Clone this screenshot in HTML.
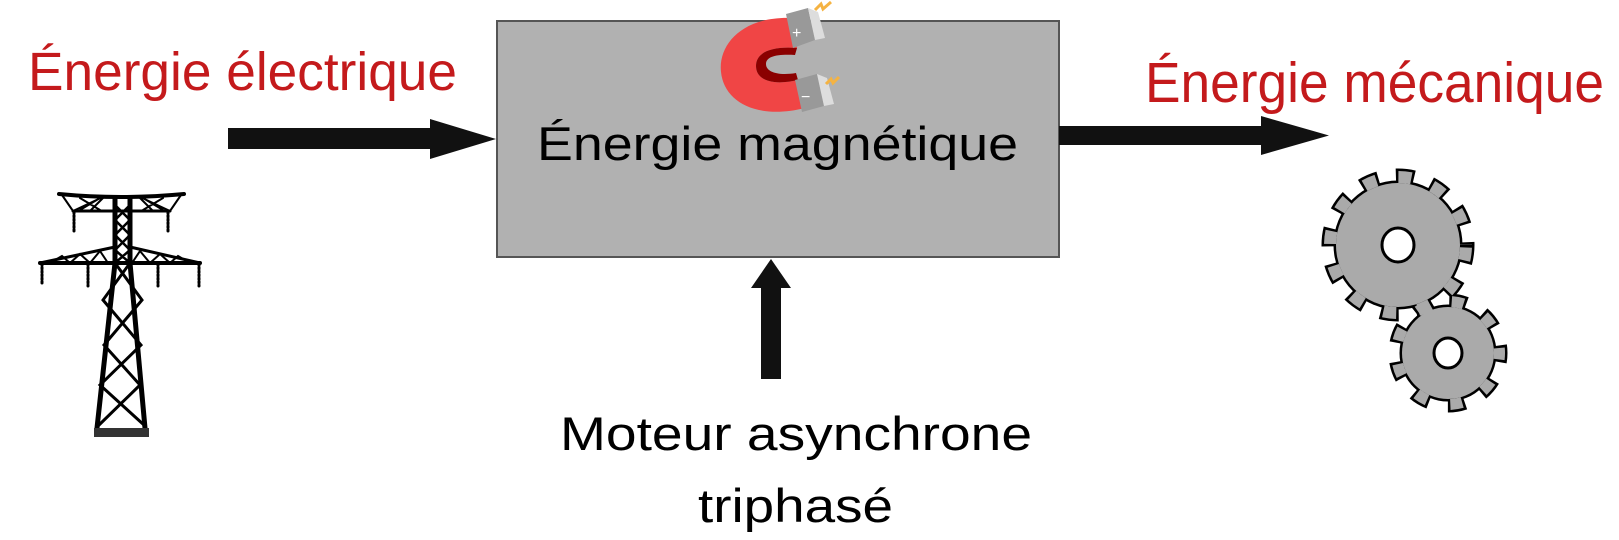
<!DOCTYPE html>
<html><head><meta charset="utf-8"><style>
html,body{margin:0;padding:0;background:#fff;width:1619px;height:540px;overflow:hidden}
svg{display:block}
text{font-family:"Liberation Sans",sans-serif}
</style></head><body>
<svg width="1619" height="540" viewBox="0 0 1619 540" xmlns="http://www.w3.org/2000/svg">
<rect x="497" y="21" width="562" height="236" fill="#b1b1b1" stroke="#555" stroke-width="2"/>
<polygon points="228,128 430,128 430,119 496,139 430,159 430,149 228,149" fill="#111"/>
<polygon points="1059,126 1261,126 1261,116 1329,135.5 1261,155 1261,145 1059,145" fill="#111"/>
<polygon points="761,379 761,288 751,288 771,259 791,288 781,288 781,379" fill="#111"/>
<text x="28" y="90" font-size="54" fill="#c41a1c" textLength="429" lengthAdjust="spacingAndGlyphs">Énergie électrique</text>
<text x="1145" y="102" font-size="57" fill="#c41a1c" textLength="459" lengthAdjust="spacingAndGlyphs">Énergie mécanique</text>
<text x="537" y="160" font-size="47" fill="#000" textLength="481" lengthAdjust="spacingAndGlyphs">Énergie magnétique</text>
<text x="560" y="450" font-size="47" fill="#000" textLength="472" lengthAdjust="spacingAndGlyphs">Moteur asynchrone</text>
<text x="698" y="522" font-size="47" fill="#000" textLength="195" lengthAdjust="spacingAndGlyphs">triphasé</text>
<g>
<path d="M792,18 C742,16 718,45 721,72 C724,102 757,120 805,108 L798,80 C772,86 756,80 756,66 C756,52 772,46 797,48 Z" fill="#f04545"/>
<path d="M797,48 C772,46 756,52 756,66 C756,80 772,86 798,80 L796,73 C778,76 766,72 766,64 C766,56 778,54 795,55 Z" fill="#8b0000"/>
<polygon points="786,14 808,8 815,40 793,48" fill="#999"/>
<polygon points="808,8 818,12 825,38 815,40" fill="#ddd"/>
<polygon points="795,80 817,74 824,106 802,112" fill="#999"/>
<polygon points="817,74 827,78 834,104 824,106" fill="#ddd"/>
<text x="792" y="38" font-size="16" fill="#fff">+</text>
<text x="801" y="102" font-size="16" fill="#fff">−</text>
<path d="M815,10 l6,-6 l2,5 l8,-7" stroke="#f5b342" stroke-width="3" fill="none"/>
<path d="M826,84 l5,-5 l2,4 l6,-6" stroke="#f5b342" stroke-width="3" fill="none"/>
</g>
<g stroke="#000" fill="none" stroke-linecap="round">
<path d="M59,194 Q121,200 184,194" stroke-width="4"/>
<line x1="73" y1="211" x2="170" y2="211" stroke-width="3"/>
<path d="M62,195 L73,211 M181,195 L170,211 M73,211 L105,196 L90,211 M170,211 L138,196 L153,211 M80,198 L100,210 M100,198 L80,210 M143,198 L163,210 M163,198 L143,210" stroke-width="2"/>
<line x1="40" y1="263" x2="200" y2="263" stroke-width="4"/>
<path d="M40,263 L115,247 M200,263 L130,247" stroke-width="3"/>
<path d="M50,263 L62,256 L70,263 L80,254 L90,263 L100,251 L108,263 M190,263 L178,256 L170,263 L160,254 L150,263 L140,251 L132,263" stroke-width="2"/>
<path d="M115,198 L115,263 L97,428 M130,198 L130,263 L145,428" stroke-width="5"/>
<path d="M115,205 L130,220 L115,235 L130,250 L115,263 M130,205 L115,220 L130,235 L115,250 L130,263" stroke-width="2.5"/>
<path d="M115,263 L142,300 L104,345 L140,385 L99,425 M130,263 L103,300 L141,345 L100,385 L144,425" stroke-width="3"/>
<g stroke-width="3" stroke-dasharray="1.5 2">
<line x1="74" y1="212" x2="74" y2="232"/><line x1="168" y1="212" x2="168" y2="232"/>
<line x1="42" y1="264" x2="42" y2="284"/><line x1="88" y1="264" x2="88" y2="286"/>
<line x1="158" y1="264" x2="158" y2="286"/><line x1="199" y1="264" x2="199" y2="286"/>
</g>
</g>
<rect x="94" y="428" width="55" height="9" fill="#333"/>
<g>
<circle cx="1398" cy="245" r="64.5" fill="#000"/>
<circle cx="1398" cy="245" r="68" fill="none" stroke="#000" stroke-width="17" stroke-dasharray="18 17.3575"/>
<circle cx="1448" cy="353" r="48.5" fill="#000"/>
<circle cx="1448" cy="353" r="51.5" fill="none" stroke="#000" stroke-width="16" stroke-dasharray="17 18.954" stroke-dashoffset="8"/>
<circle cx="1398" cy="245" r="62" fill="#aaa"/>
<circle cx="1398" cy="245" r="68" fill="none" stroke="#aaa" stroke-width="12" stroke-dasharray="13 22.3575" stroke-dashoffset="-2.5"/>
<circle cx="1448" cy="353" r="46" fill="#aaa"/>
<circle cx="1448" cy="353" r="51.5" fill="none" stroke="#aaa" stroke-width="11" stroke-dasharray="12 23.954" stroke-dashoffset="5.5"/>
<ellipse cx="1398" cy="245" rx="16" ry="17" fill="#fff" stroke="#000" stroke-width="3"/>
<ellipse cx="1448" cy="353" rx="14" ry="15" fill="#fff" stroke="#000" stroke-width="3"/>
</g>
</svg>
</body></html>
